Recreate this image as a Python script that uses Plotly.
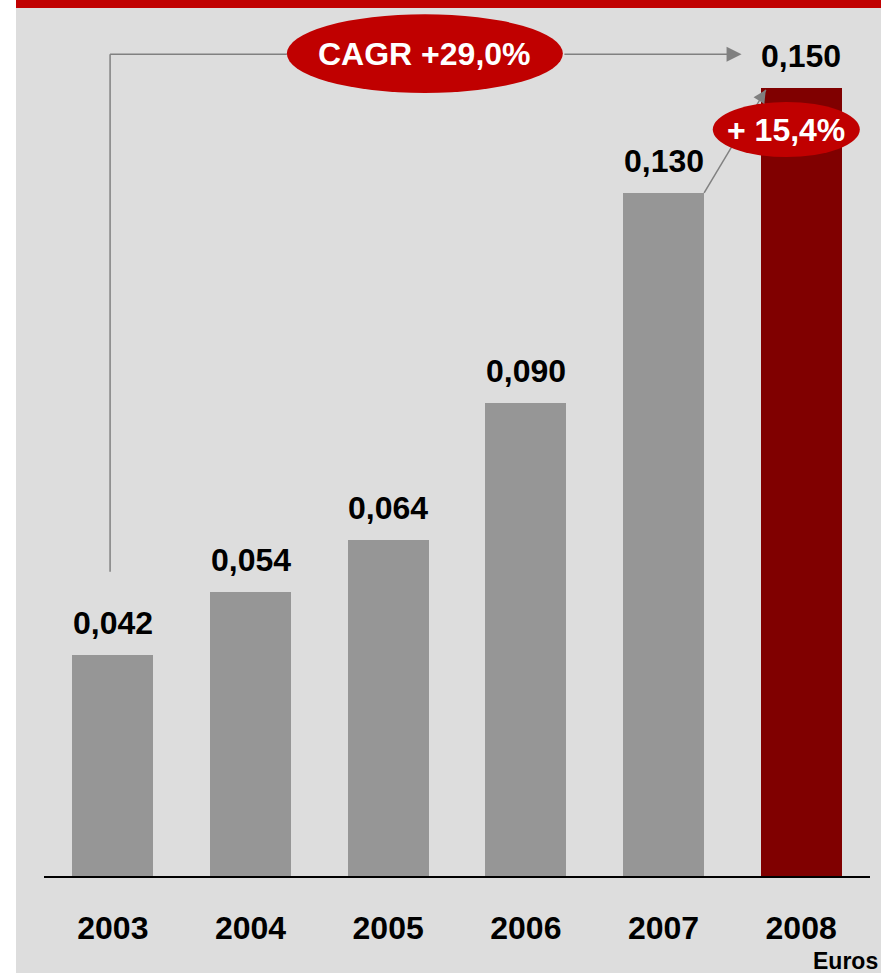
import plotly.graph_objects as go

years = ["2003", "2004", "2005", "2006", "2007", "2008"]
values = [0.042, 0.054, 0.064, 0.090, 0.130, 0.150]
bar_colors = ["#969696", "#969696", "#969696", "#969696", "#969696", "#800000"]
cagr_label = "CAGR +29,0%"
growth_label = "+ 15,4%"
unit_label = "Euros"

BG = "#dddddd"
RED = "#c00000"
LINE = "#808080"
FONT = "Liberation Sans, Arial, sans-serif"

xs = list(range(len(years)))
bw = 0.59

fig = go.Figure(go.Bar(x=xs, y=values, width=bw, marker=dict(color=bar_colors, line=dict(width=0)),
                       hoverinfo="skip"))

annotations = []
for x, v in zip(xs, values):
    annotations.append(dict(x=x, y=v, xref="x", yref="y", text=f"{v:.3f}".replace(".", ","),
                            showarrow=False, yanchor="bottom", xanchor="center", yshift=12,
                            font=dict(family=FONT, size=32, color="black", weight="bold")))

top_y = max(values)
line_y = top_y + 0.0064           # level of CAGR connector
vx = xs[0] - 0.02                 # vertical connector x
e1 = dict(x0=1.264, x1=3.269, y0=top_y - 0.001, y1=top_y + 0.014)
e2 = dict(x0=4.358, x1=5.426, y0=top_y - 0.0132, y1=top_y - 0.0027)
tip2 = (xs[5] - 0.257, top_y - 0.0004)

shapes = [
    # white left strip and red top strip
    dict(type="rect", xref="paper", yref="paper", x0=-0.0533, x1=-0.0339, y0=-0.111, y1=1.0,
         fillcolor="white", line=dict(width=0), layer="below"),
    dict(type="rect", xref="paper", yref="paper", x0=-0.0339, x1=1.0134, y0=0.99087, y1=1.0,
         fillcolor=RED, line=dict(width=0), layer="above"),
    # CAGR connector
    dict(type="line", xref="x", yref="y", x0=vx, x1=vx, y0=values[0] + 0.0159, y1=line_y,
         line=dict(color=LINE, width=1.5)),
    dict(type="line", xref="x", yref="y", x0=vx, x1=e1["x0"], y0=line_y, y1=line_y,
         line=dict(color=LINE, width=1.5)),
    # growth connector
    dict(type="line", xref="x", yref="y", x0=xs[4] + bw / 2, y0=values[4], x1=tip2[0], y1=tip2[1],
         line=dict(color=LINE, width=1.5)),
    # ellipses
    dict(type="circle", xref="x", yref="y", fillcolor=RED, line=dict(width=0), **e1),
    dict(type="circle", xref="x", yref="y", fillcolor=RED, line=dict(width=0), **e2),
]

annotations += [
    dict(x=(e1["x0"] + e1["x1"]) / 2, y=(e1["y0"] + e1["y1"]) / 2, xref="x", yref="y",
         text=cagr_label, showarrow=False,
         font=dict(family=FONT, size=32, color="white", weight="bold")),
    dict(x=(e2["x0"] + e2["x1"]) / 2, y=(e2["y0"] + e2["y1"]) / 2, xref="x", yref="y",
         text=growth_label, showarrow=False,
         font=dict(family=FONT, size=32, color="white", weight="bold")),
    # CAGR arrow
    dict(x=4.567, y=line_y, ax=e1["x1"], ay=line_y, xref="x", yref="y", axref="x", ayref="y",
         text="", showarrow=True, arrowhead=2, arrowsize=2, arrowwidth=1.5, arrowcolor=LINE,
         standoff=0, startstandoff=0),
    # growth arrowhead
    dict(x=tip2[0], y=tip2[1], ax=-7, ay=11, xref="x", yref="y",
         text="", showarrow=True, arrowhead=2, arrowsize=1.7, arrowwidth=1.5, arrowcolor=LINE,
         standoff=0),
    dict(x=1.0121, y=-0.1107, xref="paper", yref="paper", text=unit_label, showarrow=False,
         xanchor="right", yanchor="bottom", yshift=-3,
         font=dict(family=FONT, size=23, color="black", weight="bold")),
]

fig.update_layout(
    width=881, height=973,
    margin=dict(l=44, r=11, t=0, b=97),
    paper_bgcolor=BG, plot_bgcolor="rgba(0,0,0,0)",
    showlegend=False,
    bargap=0,
    hovermode=False,
    xaxis=dict(range=[-0.5, 5.5], tickvals=xs, ticktext=years, showgrid=False, zeroline=False,
               showline=True, linecolor="black", linewidth=1.5, ticks="",
               ticklabelstandoff=23,
               tickfont=dict(family=FONT, size=32, color="black", weight="bold")),
    yaxis=dict(range=[0, 0.1667], visible=False, showgrid=False, zeroline=False),
    shapes=shapes,
    annotations=annotations,
)

fig.write_html("out.html", config={"displayModeBar": False},
               post_script="document.body.style.margin='0';document.body.style.overflow='hidden';")
